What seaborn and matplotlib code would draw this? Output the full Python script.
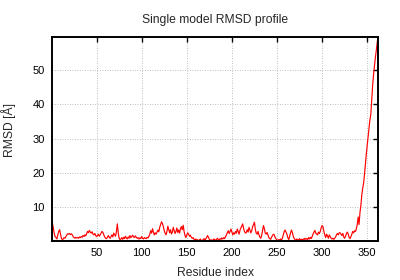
import matplotlib
matplotlib.use('Agg')
import matplotlib.pyplot as plt
import seaborn as sns

residues = list(range(1, 363))
rmsd = [
    5.5, 4.0, 2.5, 1.5, 1.2, 0.8, 2.0, 3.0, 3.5, 2.2,
    1.0, 0.6, 0.8, 1.2, 1.0, 1.5, 2.0, 2.3, 2.2, 2.4,
    2.1, 2.3, 2.0, 1.5, 1.2, 1.0, 1.3, 1.1, 1.2, 1.0,
    1.4, 1.2, 1.5, 1.3, 1.8, 1.5, 2.0, 1.7, 2.4, 3.0,
    2.6, 3.3, 2.8, 2.5, 2.9, 2.2, 2.0, 2.4, 1.8, 1.5,
    1.8, 2.2, 1.6, 2.0, 2.5, 3.0, 2.7, 2.0, 1.4, 1.0,
    0.9, 1.3, 1.8, 1.3, 1.0, 1.5, 2.0, 1.4, 2.5, 2.0,
    1.6, 3.0, 5.2, 2.5, 1.0, 0.6, 0.8, 1.2, 0.7, 1.3,
    0.9, 1.6, 1.1, 0.8, 1.4, 1.0, 1.8, 1.2, 1.5, 1.9,
    1.4, 1.2, 1.7, 1.3, 1.0, 1.2, 0.8, 1.1, 0.9, 1.5,
    1.0, 0.8, 1.2, 1.0, 0.9, 1.3, 1.1, 1.6, 2.2, 3.2,
    2.5, 3.8, 2.8, 2.0, 2.6, 2.2, 2.8, 3.4, 2.9, 4.2,
    5.0, 5.8, 5.3, 4.4, 3.2, 2.5, 2.0, 3.0, 4.5, 3.6,
    2.6, 3.5, 2.3, 2.8, 4.2, 3.2, 2.4, 3.0, 4.0, 2.7,
    3.4, 2.5, 3.8, 4.4, 3.5, 4.8, 3.0, 1.8, 1.2, 2.0,
    2.6, 2.2, 1.6, 1.9, 1.3, 1.0, 1.2, 0.7, 0.5, 0.8,
    0.4, 0.6, 0.3, 0.5, 0.8, 0.4, 0.3, 0.6, 0.9, 0.5,
    0.8, 1.2, 1.8, 1.3, 0.7, 0.4, 0.6, 0.3, 0.5, 0.8,
    0.6, 0.4, 0.7, 1.0, 0.6, 0.5, 0.9, 0.7, 1.1, 0.8,
    1.2, 0.9, 1.5, 2.0, 2.7, 3.2, 2.4, 3.0, 3.7, 2.8,
    2.0, 2.6, 2.2, 3.0, 2.5, 3.7, 2.9, 2.2, 3.4, 4.0,
    4.6, 5.2, 3.8, 3.0, 2.5, 2.7, 3.5, 2.8, 4.2, 3.4,
    2.6, 3.2, 4.4, 5.0, 5.7, 3.6, 2.5, 2.2, 3.0, 2.0,
    1.4, 1.0, 1.8, 3.2, 4.7, 3.8, 2.5, 2.2, 2.7, 2.0,
    1.2, 0.9, 0.7, 1.3, 1.8, 2.2, 2.0, 1.2, 0.8, 0.5,
    0.4, 0.6, 0.5, 0.8, 0.5, 1.0, 2.0, 3.0, 3.4, 2.8,
    2.2, 1.2, 0.6, 1.5, 2.5, 3.4, 2.8, 1.6, 1.0, 0.6,
    0.5, 0.8, 0.4, 0.6, 0.9, 0.5, 0.7, 0.4, 0.8, 0.6,
    1.0, 0.7, 0.9, 0.6, 1.2, 0.8, 1.3, 0.9, 1.5, 2.2,
    2.8, 3.3, 2.5, 2.2, 2.0, 2.8, 2.4, 3.0, 4.0, 4.7,
    4.4, 3.0, 2.0, 1.2, 2.2, 1.7, 1.0, 2.0, 1.5, 1.0,
    0.8, 1.0, 0.7, 1.0, 1.4, 2.0, 2.4, 2.0, 2.6, 2.6,
    2.2, 1.8, 2.4, 1.4, 1.0, 1.6, 2.4, 2.8, 2.2, 1.2,
    0.9, 1.5, 2.2, 3.0, 2.6, 3.2, 3.0, 3.8, 5.0, 7.2,
    5.0, 8.5, 10.5, 13.5, 15.5, 17.0, 19.5, 22.5, 25.5, 28.0,
    30.2, 33.0, 35.5, 37.0, 41.0, 45.3, 48.5, 51.0, 53.5, 55.5,
    57.8, 59.8,
]
xticks = [50, 100, 150, 200, 250, 300, 350]
yticks = [10, 20, 30, 40, 50]

sns.set_style('white')
plt.rcParams['font.family'] = ['Liberation Sans', 'DejaVu Sans']

fig = plt.figure(figsize=(4, 2.8), dpi=100)
ax = fig.add_axes([0.131, 0.1404, 0.814, 0.7292])
sns.lineplot(x=residues, y=rmsd, color='#ff0000', linewidth=0.85, ax=ax)
ax.set_xlim(min(residues), max(residues))
ax.set_ylim(min(rmsd), max(rmsd))
ax.set_xticks(xticks)
ax.set_yticks(yticks)
ax.grid(True, linestyle=(0, (1, 2)), color='#a8a8a8', linewidth=0.6)
ax.tick_params(direction='in', length=3.5, width=1, top=True, right=True,
               labelsize=8, colors='black')
ax.tick_params(axis='x', pad=5)
ax.tick_params(axis='y', pad=5.5)
for s in ax.spines.values():
    s.set_linewidth(1.4)
    s.set_color('black')
ax.set_title('Single model RMSD profile', fontsize=8.7, pad=9.7)
ax.set_xlabel('Residue index', fontsize=8.7)
ax.xaxis.label.set_va('baseline')
ax.xaxis.set_label_coords(0.5, -0.1729)
ax.set_ylabel('RMSD [Å]', fontsize=8.7)
ax.yaxis.label.set_va('center')
ax.yaxis.set_label_coords(-0.135, 0.54)

fig.savefig('out.png', dpi=100, facecolor='white')
